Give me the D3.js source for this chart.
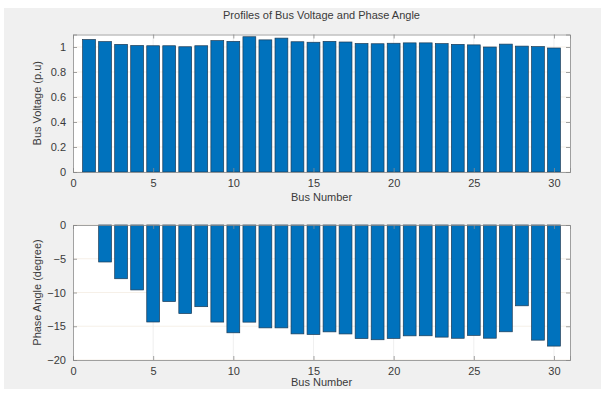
<!DOCTYPE html>
<html>
<head>
<meta charset="utf-8">
<script src="https://cdn.jsdelivr.net/npm/d3@7"></script>
<style>
  html, body { margin: 0; padding: 0; background: #ffffff; }
  svg { display: block; }
  text { font-family: "Liberation Sans", Arial, sans-serif; fill: #3a3a3a; }
</style>
</head>
<body>
<svg id="chart" width="606" height="397"></svg>
<script>
// IEEE 30-bus load flow results
const busNumbers = d3.range(1, 31);
const busVoltage = [1.060, 1.043, 1.021, 1.012, 1.010, 1.010, 1.002, 1.010, 1.051, 1.045,
                    1.082, 1.057, 1.071, 1.042, 1.038, 1.045, 1.040, 1.028, 1.026, 1.030,
                    1.033, 1.033, 1.027, 1.021, 1.017, 1.000, 1.023, 1.007, 1.003, 0.992];
const phaseAngle = [0, -5.48, -7.96, -9.62, -14.37, -11.34, -13.12, -12.10, -14.38, -15.97,
                    -14.39, -15.24, -15.24, -16.13, -16.22, -15.83, -16.14, -16.82, -17.00, -16.80,
                    -16.42, -16.41, -16.61, -16.78, -16.35, -16.77, -15.82, -11.97, -17.06, -17.94];
const xTicks = [0, 5, 10, 15, 20, 25, 30];
const voltTicks = [0, 0.2, 0.4, 0.6, 0.8, 1];
const angleTicks = [-20, -15, -10, -5, 0];

const svg = d3.select("#chart");

// figure background
svg.append("rect").attr("x", 4).attr("y", 8).attr("width", 597).attr("height", 381)
  .attr("fill", "#f0f0f0");

const left = 73, right = 570;

svg.append("text").attr("x", (left + right) / 2).attr("y", 19).attr("text-anchor", "middle")
  .attr("font-size", 11).text("Profiles of Bus Voltage and Phase Angle");

const x = d3.scaleLinear().domain([0, 31]).range([left, right]);
const barW = x(0.8) - x(0);

function panel(opts) {
  const { y, values, yTicks, yLabel, fmt, baseline, xLabelGap } = opts;
  const [top, bottom] = [y.range()[1], y.range()[0]];
  const g = svg.append("g");

  g.append("rect").attr("x", left).attr("y", top).attr("width", right - left)
    .attr("height", bottom - top).attr("fill", "#ffffff");

  // grid
  g.selectAll(".gx").data(xTicks.slice(1)).join("line")
    .attr("x1", d => x(d)).attr("x2", d => x(d)).attr("y1", top).attr("y2", bottom)
    .attr("stroke", "#e4e4e4").attr("stroke-width", 0.6);
  g.selectAll(".gy").data(yTicks).join("line")
    .attr("x1", left).attr("x2", right).attr("y1", d => y(d)).attr("y2", d => y(d))
    .attr("stroke", "#f0e6d8").attr("stroke-width", 0.6);

  // bars
  g.selectAll(".bar").data(values).join("rect")
    .attr("x", (d, i) => x(busNumbers[i]) - barW / 2)
    .attr("width", barW)
    .attr("y", d => Math.min(y(d), y(baseline)))
    .attr("height", d => Math.abs(y(d) - y(baseline)))
    .attr("fill", "#0072bd").attr("stroke", "#1d3b55").attr("stroke-width", 0.7);

  // axes (box with inward ticks)
  const tickLen = 4;
  const axB = d3.axisBottom(x).tickValues(xTicks).tickSize(-tickLen).tickPadding(7).tickFormat(d3.format("d"));
  const axT = d3.axisTop(x).tickValues(xTicks).tickSize(-tickLen).tickFormat("");
  const axL = d3.axisLeft(y).tickValues(yTicks).tickSize(-tickLen).tickPadding(7).tickFormat(fmt);
  const axR = d3.axisRight(y).tickValues(yTicks).tickSize(-tickLen).tickFormat("");

  const style = sel => {
    sel.selectAll("path").attr("stroke", "#8a8a8a").attr("stroke-width", 0.8);
    sel.selectAll("line").attr("stroke", "#8a8a8a").attr("stroke-width", 0.8);
    sel.selectAll("text").attr("font-size", 11).attr("fill", "#3a3a3a")
      .attr("font-family", "Liberation Sans, Arial, sans-serif");
  };
  g.append("g").attr("transform", `translate(0,${bottom})`).call(axB).call(style);
  g.append("g").attr("transform", `translate(0,${top})`).call(axT).call(style);
  g.append("g").attr("transform", `translate(${left},0)`).call(axL).call(style);
  g.append("g").attr("transform", `translate(${right},0)`).call(axR).call(style);

  g.append("text").attr("x", (left + right) / 2).attr("y", bottom + xLabelGap)
    .attr("text-anchor", "middle").attr("font-size", 11).text("Bus Number");
  g.append("text")
    .attr("transform", `translate(41,${(top + bottom) / 2}) rotate(-90)`)
    .attr("text-anchor", "middle").attr("font-size", 11).text(yLabel);
}

panel({
  y: d3.scaleLinear().domain([0, 1.1]).range([172, 34.5]),
  values: busVoltage, yTicks: voltTicks, yLabel: "Bus Voltage (p.u)",
  fmt: d => (d === 0 || d === 1) ? String(d) : d3.format(".1f")(d), baseline: 0,
  xLabelGap: 29
});

panel({
  y: d3.scaleLinear().domain([-20, 0]).range([360, 225]),
  values: phaseAngle, yTicks: angleTicks, yLabel: "Phase Angle (degree)",
  fmt: d3.format("d"), baseline: 0,
  xLabelGap: 26
});
</script>
</body>
</html>
